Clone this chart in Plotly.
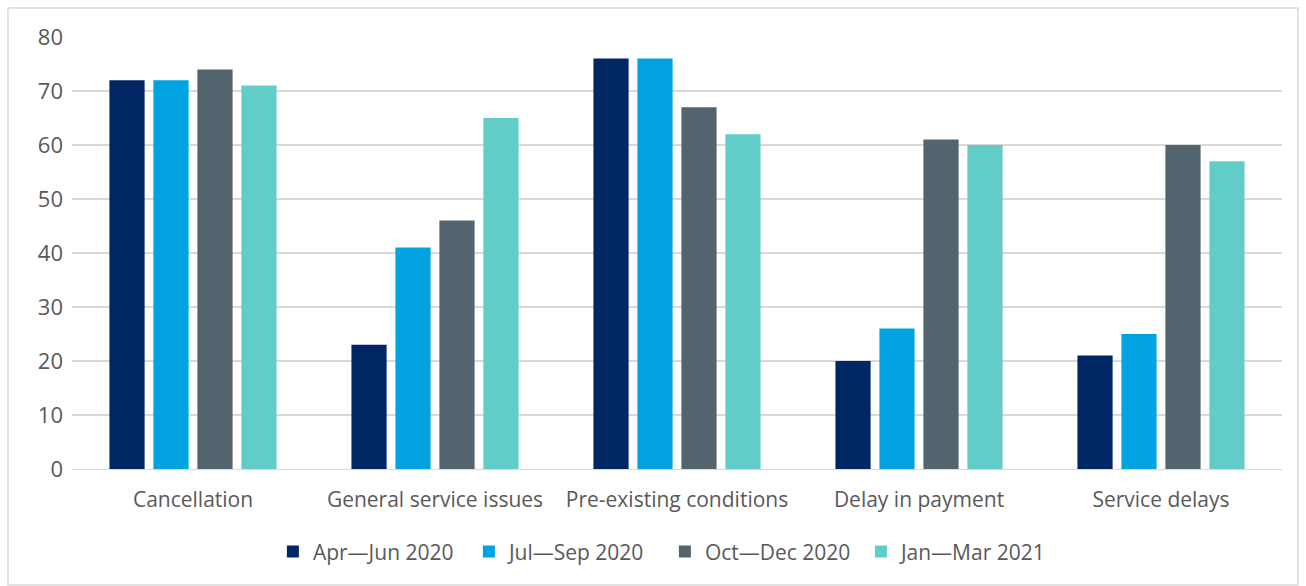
import plotly.graph_objects as go

categories = ["Cancellation", "General service issues", "Pre-existing conditions", "Delay in payment", "Service delays"]
series_names = ["Apr\u2014Jun 2020", "Jul\u2014Sep 2020", "Oct\u2014Dec 2020", "Jan\u2014Mar 2021"]
apr_jun_2020 = [72, 23, 76, 20, 21]
jul_sep_2020 = [72, 41, 76, 26, 25]
oct_dec_2020 = [74, 46, 67, 61, 60]
jan_mar_2021 = [71, 65, 62, 60, 57]
y_ticks = [0, 10, 20, 30, 40, 50, 60, 70, 80]

colors = ["#002663", "#00A3E0", "#53646F", "#62CDC8"]
values = [apr_jun_2020, jul_sep_2020, oct_dec_2020, jan_mar_2021]

fig = go.Figure()
for name, vals, c in zip(series_names, values, colors):
    fig.add_trace(go.Bar(x=categories, y=vals, name=name, marker=dict(color=c, line=dict(width=0))))

font_family = "Open Sans, Liberation Sans, sans-serif"
fig.update_layout(
    width=1306, height=586,
    margin=dict(l=72, r=24, t=37, b=117),
    paper_bgcolor="white", plot_bgcolor="white",
    barmode="group", bargap=0.273, bargroupgap=0.2,
    font=dict(family=font_family, size=20, color="#595959"),
    showlegend=True,
    legend=dict(orientation="h", x=0.49, xanchor="center", y=-0.192, yanchor="middle",
                font=dict(size=21, color="#595959"), itemsizing="constant",
                traceorder="normal", entrywidth=151, entrywidthmode="pixels", itemwidth=30),
    xaxis=dict(showgrid=False, showline=True, linecolor="#D9D9D9", linewidth=1,
               ticks="", ticklabelstandoff=12, tickfont=dict(size=21, color="#595959")),
    yaxis=dict(range=[0, 80], tickvals=y_ticks, showgrid=True, gridcolor="#D9D9D9", gridwidth=1.5,
               zeroline=False, showline=False, ticks="", ticklabelstandoff=8,
               tickfont=dict(size=22, color="#595959")),
    shapes=[dict(type="rect", xref="paper", yref="paper",
                 x0=(8 - 72) / 1210, x1=(1298 - 72) / 1210,
                 y0=(469 - 585) / 432, y1=(469 - 8) / 432,
                 line=dict(color="#D9D9D9", width=1.5), fillcolor="rgba(0,0,0,0)", layer="below")],
)

fig.write_html("out.html")
